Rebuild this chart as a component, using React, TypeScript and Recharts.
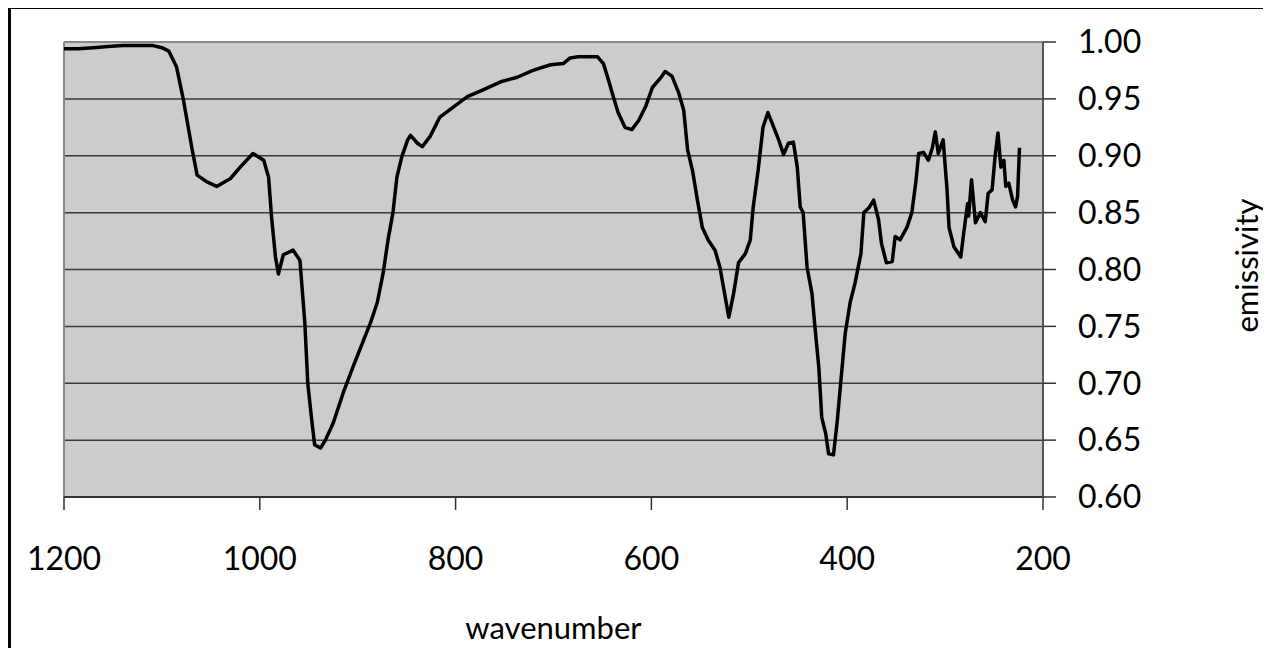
import React from 'react';
import { LineChart, Line, XAxis, YAxis, CartesianGrid, ReferenceLine, Label } from 'recharts';

// spectrum
const wavenumbers = [
  1200, 1185, 1170, 1155, 1140, 1125, 1110, 1100, 1093, 1085, 1078, 1069, 1064, 1054, 1044, 1030, 1020, 1007,
  996, 991, 988, 984, 981, 976, 966, 959, 954, 951, 947, 944, 938, 933, 925, 915, 905, 894, 887, 880, 874, 869,
  864, 860, 855, 849, 846, 839, 834, 826, 816, 802, 788, 772, 754, 737, 721, 703, 690, 683, 675, 665, 655, 649,
  644, 639, 634, 627, 620, 613, 606, 599, 591, 586, 579, 572, 567, 563, 558, 553, 548, 542, 535, 530, 524, 521,
  516, 511, 504, 499, 496, 491, 486, 481, 475, 470, 465, 460, 455, 451, 448, 445, 441, 436, 433, 429, 426, 422,
  419, 414, 410, 407, 402, 397, 392, 386, 383, 378, 373, 368, 365, 360, 354, 351, 346, 339, 334, 330, 327, 322,
  317, 313, 310, 307, 302, 298, 296, 291, 284, 281, 277, 276, 273, 269, 264, 259, 256, 252, 249, 246, 243, 240,
  238, 235, 231, 228, 226, 224,
];

const emissivity = [
  0.994, 0.994, 0.995, 0.996, 0.997, 0.997, 0.997, 0.995, 0.992, 0.978, 0.949, 0.905, 0.883, 0.877, 0.873, 0.88,
  0.89, 0.902, 0.896, 0.881, 0.846, 0.811, 0.796, 0.813, 0.817, 0.808, 0.753, 0.7, 0.668, 0.646, 0.643, 0.65,
  0.665, 0.691, 0.714, 0.738, 0.753, 0.771, 0.797, 0.826, 0.85, 0.881, 0.899, 0.914, 0.918, 0.911, 0.908, 0.917,
  0.934, 0.943, 0.952, 0.958, 0.965, 0.969, 0.975, 0.98, 0.981, 0.986, 0.987, 0.987, 0.987, 0.981, 0.967, 0.952,
  0.938, 0.925, 0.923, 0.931, 0.943, 0.96, 0.968, 0.974, 0.97, 0.955, 0.94, 0.905, 0.887, 0.861, 0.837, 0.826,
  0.817, 0.802, 0.773, 0.758, 0.779, 0.806, 0.814, 0.826, 0.855, 0.887, 0.925, 0.938, 0.925, 0.914, 0.901, 0.911,
  0.912, 0.89, 0.855, 0.85, 0.802, 0.779, 0.75, 0.714, 0.67, 0.656, 0.638, 0.637, 0.668, 0.697, 0.744, 0.771,
  0.788, 0.814, 0.85, 0.854, 0.861, 0.844, 0.823, 0.806, 0.807, 0.829, 0.826, 0.837, 0.85, 0.876, 0.902, 0.903,
  0.896, 0.907, 0.921, 0.902, 0.914, 0.87, 0.837, 0.82, 0.811, 0.832, 0.858, 0.847, 0.879, 0.841, 0.85, 0.842,
  0.867, 0.87, 0.899, 0.92, 0.89, 0.896, 0.873, 0.876, 0.861, 0.855, 0.864, 0.907,
];

const xTicks = [1200, 1000, 800, 600, 400, 200];
const yTicks = [0.6, 0.65, 0.7, 0.75, 0.8, 0.85, 0.9, 0.95, 1.0];

const data = wavenumbers.map((wn, i) => ({ wn, e: emissivity[i] }));

const FONT = 'Lato, "Open Sans", sans-serif';

const XTitle = ({ viewBox }: any) => {
  const x = viewBox.x + viewBox.width / 2;
  const y = viewBox.y + viewBox.height - 9;
  return (
    <text x={x} y={y} textAnchor="middle" fontFamily={FONT} fontSize={31} fill="#000">
      wavenumber
    </text>
  );
};

const YTitle = ({ viewBox }: any) => {
  const x = viewBox.x + 203;
  const y = viewBox.y + viewBox.height / 2 - 4;
  return (
    <text
      x={x}
      y={y}
      transform={`rotate(-90 ${x} ${y})`}
      textAnchor="middle"
      dominantBaseline="central"
      fontFamily={FONT}
      fontSize={31}
      fill="#000"
    >
      emissivity
    </text>
  );
};

export default function App() {
  return (
    <div style={{ position: 'relative', width: 1263, height: 640 }}>
      {/* outer frame, only top and left edges show in the picture */}
      <div
        style={{
          position: 'absolute',
          left: 0,
          top: -2,
          width: 1263,
          height: 642,
          borderTop: '3px solid #000',
          borderLeft: '3px solid #000',
          boxSizing: 'border-box',
        }}
      />
      <LineChart
        width={1263}
        height={640}
        data={data}
        margin={{ top: 34, left: 56, right: 0, bottom: 0 }}
        style={{ position: 'absolute', left: 0, top: 0 }}
      >
        <CartesianGrid vertical={false} fill="#cccccc" stroke="#3a3a3a" strokeWidth={1.5} />
        <XAxis
          dataKey="wn"
          type="number"
          domain={[200, 1200]}
          reversed
          ticks={xTicks}
          interval={0}
          height={151}
          tickSize={13}
          tickMargin={37}
          axisLine={{ stroke: '#333', strokeWidth: 2 }}
          tickLine={{ stroke: '#333', strokeWidth: 1.5 }}
          tick={{ fontFamily: FONT, fontSize: 32, fill: '#000' }}
        >
          <Label content={<XTitle />} />
        </XAxis>
        <YAxis
          orientation="right"
          type="number"
          domain={[0.6, 1.0]}
          ticks={yTicks}
          interval={0}
          width={228}
          tickSize={13}
          tickMargin={22}
          tickFormatter={(v: number) => v.toFixed(2)}
          axisLine={{ stroke: '#555', strokeWidth: 2 }}
          tickLine={{ stroke: '#333', strokeWidth: 1.5 }}
          tick={{ fontFamily: FONT, fontSize: 32, fill: '#000' }}
        >
          <Label content={<YTitle />} />
        </YAxis>
        <ReferenceLine x={1200} stroke="#888" strokeWidth={2} />
        <ReferenceLine y={1.0} stroke="#888" strokeWidth={2} />
        <Line
          type="linear"
          dataKey="e"
          stroke="#000"
          strokeWidth={3.5}
          strokeLinejoin="round"
          dot={false}
          isAnimationActive={false}
        />
      </LineChart>
    </div>
  );
}
